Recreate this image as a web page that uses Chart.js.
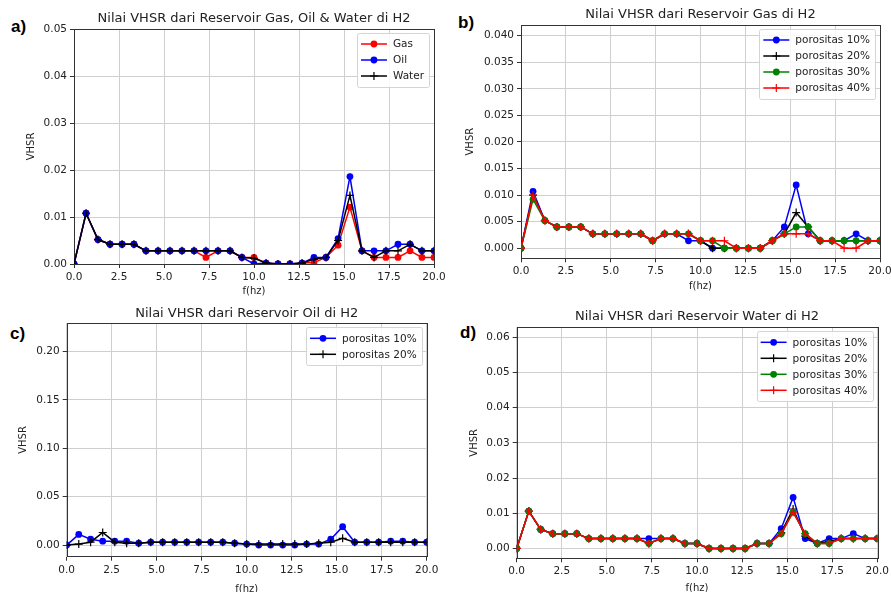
<!DOCTYPE html>
<html>
<head>
<meta charset="utf-8">
<script src="https://cdn.jsdelivr.net/npm/chart.js@4.4.1/dist/chart.umd.min.js"></script>
<style>
  html, body { margin: 0; padding: 0; background: #fff; overflow: hidden; width: 891px; height: 592px; }
  canvas { position: absolute; left: 0; top: 0; }
  .tag { position: absolute; font: bold 17px "Liberation Sans", Arial, sans-serif; color: #000; }
</style>
</head>
<body>
<div class="tag" style="left:11px;top:17px">a)</div>
<div class="tag" style="left:458px;top:13px">b)</div>
<div class="tag" style="left:10px;top:324px">c)</div>
<div class="tag" style="left:460px;top:323px">d)</div>
<canvas id="chartA" width="891" height="620"></canvas>
<canvas id="chartB" width="891" height="620"></canvas>
<canvas id="chartC" width="891" height="620"></canvas>
<canvas id="chartD" width="891" height="620"></canvas>
<script>
// frequency samples (hz)
const freq = [0, 0.67, 1.33, 2.0, 2.67, 3.33, 4.0, 4.67, 5.33, 6.0, 6.67, 7.33, 8.0, 8.67, 9.33, 10.0,
              10.67, 11.33, 12.0, 12.67, 13.33, 14.0, 14.67, 15.33, 16.0, 16.67, 17.33, 18.0, 18.67, 19.33, 20.0];
const xTicks = [0, 2.5, 5, 7.5, 10, 12.5, 15, 17.5, 20];

// a) gas / oil / water
const gasA   = [0, 0.0108, 0.0052, 0.0042, 0.0042, 0.0042, 0.0028, 0.0028, 0.0028, 0.0028, 0.0028, 0.0014, 0.0028, 0.0028, 0.0014, 0.0014,
                0.0002, 0, 0, 0.0002, 0.0003, 0.0014, 0.0040, 0.0121, 0.0028, 0.0014, 0.0014, 0.0014, 0.0028, 0.0014, 0.0014];
const oilA   = [0, 0.0108, 0.0052, 0.0042, 0.0042, 0.0042, 0.0028, 0.0028, 0.0028, 0.0028, 0.0028, 0.0028, 0.0028, 0.0028, 0.0014, 0,
                0.0002, 0, 0, 0.0002, 0.0014, 0.0014, 0.0054, 0.0186, 0.0028, 0.0028, 0.0028, 0.0042, 0.0042, 0.0028, 0.0028];
const waterA = [0, 0.0108, 0.0052, 0.0042, 0.0042, 0.0042, 0.0028, 0.0028, 0.0028, 0.0028, 0.0028, 0.0028, 0.0028, 0.0028, 0.0014, 0.0012,
                0.0002, 0, 0, 0.0002, 0.0010, 0.0014, 0.0050, 0.0146, 0.0028, 0.0014, 0.0028, 0.0028, 0.0042, 0.0028, 0.0028];

// b) gas reservoir
const p10B = [0, 0.0107, 0.0052, 0.0040, 0.0040, 0.0040, 0.0027, 0.0027, 0.0027, 0.0027, 0.0027, 0.0014, 0.0027, 0.0027, 0.0014, 0.0014,
              0, 0, 0, 0, 0, 0.0014, 0.0040, 0.0119, 0.0027, 0.0014, 0.0014, 0.0014, 0.0027, 0.0014, 0.0014];
const p20B = [0, 0.0100, 0.0052, 0.0040, 0.0040, 0.0040, 0.0027, 0.0027, 0.0027, 0.0027, 0.0027, 0.0014, 0.0027, 0.0027, 0.0027, 0.0014,
              0, 0, 0, 0, 0, 0.0014, 0.0027, 0.0067, 0.0040, 0.0014, 0.0014, 0.0014, 0.0014, 0.0014, 0.0014];
const p30B = [0, 0.0092, 0.0052, 0.0040, 0.0040, 0.0040, 0.0027, 0.0027, 0.0027, 0.0027, 0.0027, 0.0014, 0.0027, 0.0027, 0.0027, 0.0014,
              0.0014, 0, 0, 0, 0, 0.0014, 0.0027, 0.0040, 0.0040, 0.0014, 0.0014, 0.0014, 0.0014, 0.0014, 0.0014];
const p40B = [0, 0.0100, 0.0052, 0.0040, 0.0040, 0.0040, 0.0027, 0.0027, 0.0027, 0.0027, 0.0027, 0.0014, 0.0027, 0.0027, 0.0027, 0.0014,
              0.0014, 0.0014, 0, 0, 0, 0.0014, 0.0027, 0.0027, 0.0027, 0.0014, 0.0014, 0, 0, 0.0014, 0.0014];

// c) oil reservoir
const p10C = [0, 0.011, 0.006, 0.004, 0.004, 0.004, 0.002, 0.003, 0.003, 0.003, 0.003, 0.003, 0.003, 0.003, 0.002, 0.001,
              0, 0, 0, 0, 0.001, 0.001, 0.006, 0.019, 0.003, 0.003, 0.003, 0.004, 0.004, 0.003, 0.003];
const p20C = [0, 0.001, 0.003, 0.013, 0.003, 0.002, 0.002, 0.003, 0.003, 0.003, 0.003, 0.003, 0.003, 0.003, 0.002, 0.001,
              0.001, 0.001, 0.001, 0.001, 0.001, 0.002, 0.003, 0.007, 0.003, 0.003, 0.003, 0.003, 0.003, 0.003, 0.003];

// d) water reservoir
const p10D = [0, 0.0106, 0.0054, 0.0042, 0.0042, 0.0042, 0.0028, 0.0028, 0.0028, 0.0028, 0.0028, 0.0028, 0.0028, 0.0028, 0.0014, 0.0014,
              0, 0, 0, 0, 0.0014, 0.0014, 0.0056, 0.0145, 0.0028, 0.0014, 0.0028, 0.0028, 0.0042, 0.0028, 0.0028];
const p20D = [0, 0.0106, 0.0054, 0.0042, 0.0042, 0.0042, 0.0028, 0.0028, 0.0028, 0.0028, 0.0028, 0.0014, 0.0028, 0.0028, 0.0014, 0.0014,
              0, 0, 0, 0, 0.0014, 0.0014, 0.0045, 0.0112, 0.0035, 0.0014, 0.0020, 0.0028, 0.0028, 0.0028, 0.0028];
const p30D = [0, 0.0106, 0.0054, 0.0042, 0.0042, 0.0042, 0.0028, 0.0028, 0.0028, 0.0028, 0.0028, 0.0014, 0.0028, 0.0028, 0.0014, 0.0014,
              0, 0, 0, 0, 0.0014, 0.0014, 0.0042, 0.0103, 0.0042, 0.0014, 0.0014, 0.0028, 0.0028, 0.0028, 0.0028];
const p40D = [0, 0.0106, 0.0054, 0.0042, 0.0042, 0.0042, 0.0028, 0.0028, 0.0028, 0.0028, 0.0028, 0.0014, 0.0028, 0.0028, 0.0014, 0.0014,
              0, 0, 0, 0, 0.0014, 0.0014, 0.0042, 0.0103, 0.0042, 0.0014, 0.0014, 0.0028, 0.0028, 0.0028, 0.0028];

const FONT = '"DejaVu Sans", sans-serif';
const TXT = '#222';
const CANVAS_H = 620;

// full axes box like matplotlib spines
const frame = {
  id: 'frame',
  beforeDatasetsDraw(chart) {
    const { ctx, chartArea: a } = chart;
    ctx.save();
    ctx.strokeStyle = '#333';
    ctx.lineWidth = 1;
    ctx.strokeRect(Math.round(a.left) + 0.5, Math.round(a.top) + 0.5,
                   Math.round(a.right - a.left), Math.round(a.bottom - a.top));
    ctx.restore();
  }
};

function marker(ctx, d, x, y) {
  ctx.fillStyle = d.borderColor;
  ctx.strokeStyle = d.borderColor;
  if (d.pointStyle === 'cross') {
    const r = d.pointRadius;
    ctx.lineWidth = d.pointBorderWidth;
    ctx.beginPath();
    ctx.moveTo(x - r, y); ctx.lineTo(x + r, y);
    ctx.moveTo(x, y - r); ctx.lineTo(x, y + r);
    ctx.stroke();
  } else {
    ctx.beginPath();
    ctx.arc(x, y, d.pointRadius, 0, Math.PI * 2);
    ctx.fill();
  }
}

// legend inside the axes, upper right
const innerLegend = {
  id: 'innerLegend',
  afterDatasetsDraw(chart) {
    const { ctx, chartArea: a } = chart;
    const ds = chart.data.datasets;
    ctx.save();
    ctx.font = '10.5px ' + FONT;
    const rowH = 16, lineLen = 26;
    const textW = Math.max(...ds.map(d => ctx.measureText(d.label).width));
    const w = 4 + lineLen + 6 + textW + 5;
    const h = ds.length * rowH + 6;
    const x = a.right - 5 - w, y = a.top + 4;
    ctx.fillStyle = 'rgba(255,255,255,0.85)';
    ctx.strokeStyle = '#d4d4d4';
    ctx.lineWidth = 1;
    ctx.beginPath();
    ctx.roundRect(Math.round(x) + 0.5, Math.round(y) + 0.5, Math.round(w), Math.round(h), 2);
    ctx.fill();
    ctx.stroke();
    ds.forEach((d, i) => {
      const cy = y + 3 + rowH * i + rowH / 2;
      ctx.strokeStyle = d.borderColor;
      ctx.lineWidth = d.borderWidth;
      ctx.beginPath();
      ctx.moveTo(x + 4, cy);
      ctx.lineTo(x + 4 + lineLen, cy);
      ctx.stroke();
      marker(ctx, d, x + 4 + lineLen / 2, cy);
      ctx.fillStyle = TXT;
      ctx.textBaseline = 'middle';
      ctx.fillText(d.label, x + 4 + lineLen + 6, cy + 0.5);
    });
    ctx.restore();
  }
};

function series(label, values, color, style, n, i) {
  return {
    label,
    data: freq.map((f, k) => ({ x: f, y: values[k] })),
    borderColor: color,
    backgroundColor: color,
    borderWidth: 1.5,
    pointStyle: style,
    pointRadius: style === 'cross' ? 4 : 3.4,
    pointBorderWidth: style === 'cross' ? 1.2 : 0,
    pointBackgroundColor: color,
    pointBorderColor: color,
    order: n - i
  };
}

function makePanel(id, title, box, yMin, yMax, yStep, digits, list) {
  const n = list.length;
  const padLeft = box.yLabX - 6;
  const yW = box.L - padLeft;
  const padTop = box.titleY - 7.8;
  const titleGap = box.T - padTop - 15.6;
  const xH = box.xLabY + 6 - box.B;
  const padBottom = CANVAS_H - box.B - xH;

  return new Chart(document.getElementById(id), {
    type: 'line',
    data: { datasets: list.map((s, i) => series(s[0], s[1], s[2], s[3], n, i)) },
    options: {
      responsive: false,
      animation: false,
      events: [],
      layout: { padding: { left: padLeft, right: 891 - box.R, top: padTop, bottom: padBottom } },
      plugins: {
        legend: { display: false },
        tooltip: { enabled: false },
        title: {
          display: true, text: title, color: TXT, fullSize: false,
          font: { family: FONT, size: 13, weight: 'normal', lineHeight: 1.2 },
          padding: { top: 0, bottom: titleGap }
        }
      },
      scales: {
        x: {
          type: 'linear', min: 0, max: 20,
          afterFit: s => { s.height = xH; s.paddingLeft = 0; s.paddingRight = 0; },
          afterBuildTicks: s => { s.ticks = xTicks.map(v => ({ value: v })); },
          ticks: { color: TXT, font: { family: FONT, size: 10.5 }, padding: 3, maxRotation: 0, autoSkip: false,
                   callback: v => v.toFixed(1) },
          grid: { color: '#cfcfcf', tickColor: '#333', tickLength: 4 },
          border: { display: false },
          title: { display: true, text: 'f(hz)', color: TXT, padding: 0,
                   font: { family: FONT, size: 10, lineHeight: 1.2 } }
        },
        y: {
          type: 'linear', min: yMin, max: yMax,
          afterFit: s => { s.width = yW; s.paddingTop = 0; s.paddingBottom = 0; },
          ticks: { stepSize: yStep, includeBounds: false, color: TXT, font: { family: FONT, size: 10.5 }, padding: 3,
                   callback: v => v.toFixed(digits) },
          grid: { color: '#cfcfcf', tickColor: '#333', tickLength: 4 },
          border: { display: false },
          title: { display: true, text: 'VHSR', color: TXT, padding: 0,
                   font: { family: FONT, size: 10, lineHeight: 1.2 } }
        }
      }
    },
    plugins: [frame, innerLegend]
  });
}

makePanel('chartA', 'Nilai VHSR dari Reservoir Gas, Oil & Water di H2',
  { L: 74, R: 434, T: 29, B: 264, titleY: 19, yLabX: 31.7, xLabY: 291.7 },
  0, 0.05, 0.01, 2,
  [['Gas', gasA, '#ff0000', 'circle'], ['Oil', oilA, '#0000ff', 'circle'], ['Water', waterA, '#000000', 'cross']]);

makePanel('chartB', 'Nilai VHSR dari Reservoir Gas di H2',
  { L: 521, R: 880, T: 25, B: 258.3, titleY: 15, yLabX: 470, xLabY: 286.7 },
  -0.0019, 0.042, 0.005, 3,
  [['porositas 10%', p10B, '#0000ff', 'circle'], ['porositas 20%', p20B, '#000000', 'cross'],
   ['porositas 30%', p30B, '#008000', 'circle'], ['porositas 40%', p40B, '#ff0000', 'cross']]);

makePanel('chartC', 'Nilai VHSR dari Reservoir Oil di H2',
  { L: 66.7, R: 426.7, T: 323.3, B: 556.7, titleY: 313.3, yLabX: 23.3, xLabY: 589.5 },
  -0.012, 0.229, 0.05, 2,
  [['porositas 10%', p10C, '#0000ff', 'circle'], ['porositas 20%', p20C, '#000000', 'cross']]);

makePanel('chartD', 'Nilai VHSR dari Reservoir Water di H2',
  { L: 516.7, R: 877.3, T: 327.3, B: 558.3, titleY: 316.7, yLabX: 474.3, xLabY: 588.3 },
  -0.0028, 0.0628, 0.01, 2,
  [['porositas 10%', p10D, '#0000ff', 'circle'], ['porositas 20%', p20D, '#000000', 'cross'],
   ['porositas 30%', p30D, '#008000', 'circle'], ['porositas 40%', p40D, '#ff0000', 'cross']]);
</script>
</body>
</html>
